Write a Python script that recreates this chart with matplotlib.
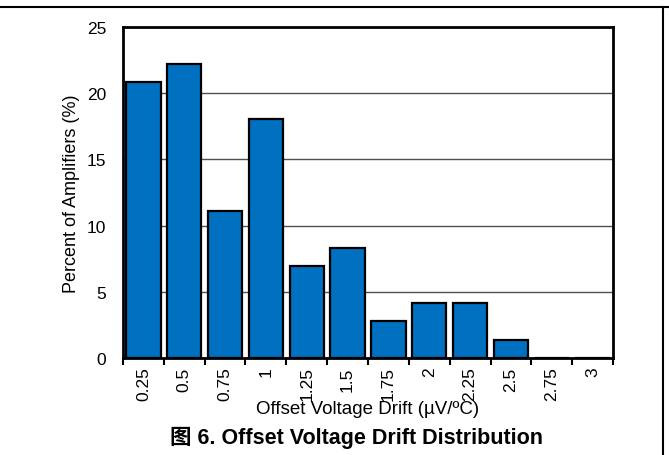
import matplotlib
matplotlib.use('Agg')
import matplotlib.pyplot as plt
from matplotlib.lines import Line2D

# drift bins (uV/C) and share of amplifiers (%)
categories = ['0.25', '0.5', '0.75', '1', '1.25', '1.5', '1.75', '2', '2.25', '2.5', '2.75', '3']
percent = [20.83, 22.22, 11.11, 18.06, 6.94, 8.33, 2.78, 4.17, 4.17, 1.39, 0, 0]
y_ticks = [0, 5, 10, 15, 20, 25]

plt.rcParams['font.family'] = ['Liberation Sans', 'Noto Sans CJK SC']

fig = plt.figure(figsize=(6.69, 4.56), dpi=100)
ax = fig.add_axes([123 / 669, 1 - 359 / 456, 490 / 669, 331 / 456])

x = list(range(len(categories)))
ax.bar(x, percent, width=0.84, color='#0070C0', edgecolor='black', linewidth=1.6, zorder=3)

ax.set_xlim(-0.5, len(categories) - 0.5)
ax.set_ylim(0, 25)
ax.set_yticks(y_ticks)
ax.yaxis.grid(True, color='#505050', linewidth=1.0, zorder=0)
ax.tick_params(axis='y', length=0, pad=12, labelsize=12.5)

ax.set_xticks(x)
ax.set_xticklabels(categories, rotation=90, fontsize=12.5)
ax.tick_params(axis='x', length=0, pad=6)
# tick marks sit on the bin boundaries
ax.set_xticks([i - 0.5 for i in range(len(categories) + 1)], minor=True)
ax.tick_params(axis='x', which='minor', length=5, width=1.5, direction='out')

for s in ax.spines.values():
    s.set_linewidth(2)

ax.set_ylabel('Percent of Amplifiers (%)', fontsize=13, labelpad=5)
ax.set_xlabel('Offset Voltage Drift (µV/ºC)', fontsize=13.5, labelpad=0)

fig.text(356 / 669, 1 - 438 / 456, '图 6. Offset Voltage Drift Distribution',
         ha='center', va='center', fontsize=15.5, fontweight='bold',
         family=['Liberation Sans', 'Noto Sans CJK SC'])

# page frame lines
fig.add_artist(Line2D([0, 1], [1 - 8 / 456, 1 - 8 / 456], color='black', linewidth=1.5))
fig.add_artist(Line2D([663 / 669, 663 / 669], [0, 1 - 8 / 456], color='black', linewidth=1.5))

plt.savefig('out.png', dpi=100)
plt.close()
